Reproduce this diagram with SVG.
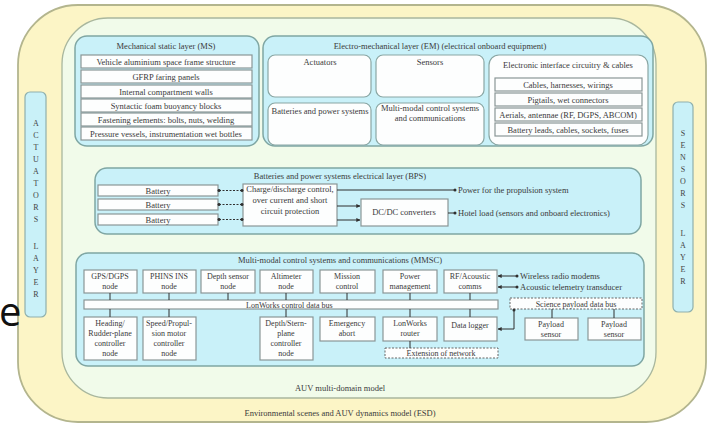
<svg xmlns="http://www.w3.org/2000/svg" width="716" height="426" viewBox="0 0 716 426">
<defs>
<style>
text{font-family:"Liberation Serif","Times New Roman",serif;fill:#3a3a3a;font-size:8.5px;text-anchor:middle}
.n text{font-size:8px}
.outer{fill:#fcf5c6;stroke:#b3b58e;stroke-width:1.8}
.inner{fill:#f1fbea;stroke:#a9b79e;stroke-width:1.3}
.side{fill:#c9f1f8;stroke:#8fb0ad;stroke-width:1.2}
.panel{fill:#c9f1f9;stroke:#7fa6a3;stroke-width:1.5}
.wbox{fill:#fdfefe;stroke:#8a9696;stroke-width:1.2}
.wrbox{fill:#fdfefe;stroke:#8aa6a3;stroke-width:1.2}
.dash{fill:#fdfefe;stroke:#666;stroke-width:1;stroke-dasharray:2 1.5}
.ln{fill:none;stroke:#2f2f2f;stroke-width:1}
.dl{fill:none;stroke:#2f2f2f;stroke-width:1;stroke-dasharray:2 1.5}
.vl text{font-family:"Liberation Serif",serif;font-size:8px;fill:#444}
.big{font-family:"Open Sans","Liberation Sans",sans-serif;font-size:40px;fill:#111;text-anchor:start}
</style>
<marker id="ah" viewBox="0 0 6 6" refX="5.5" refY="3" markerWidth="4" markerHeight="4" orient="auto-start-reverse"><path d="M0,0L6,3L0,6z" fill="#2f2f2f"/></marker>
<marker id="dot" viewBox="0 0 6 6" refX="3" refY="3" markerWidth="3.5" markerHeight="3.5"><circle cx="3" cy="3" r="2.6" fill="#2f2f2f"/></marker>
</defs>

<g id="background">
<rect class="outer" x="18" y="5" width="688" height="417" rx="60"/>
<rect class="inner" x="62" y="18" width="594" height="380" rx="46"/>
<text x="340" y="391">AUV multi-domain model</text>
<text x="340" y="416">Environmental scenes and AUV dynamics model (ESD)</text>
</g>

<text class="big" x="-1" y="326">e</text>

<g id="actuators-layer">
<rect class="side" x="25" y="92" width="21" height="225" rx="5"/>
<g class="vl">
<text x="36" y="126">A</text><text x="36" y="138">C</text><text x="36" y="150">T</text><text x="36" y="162">U</text><text x="36" y="174">A</text><text x="36" y="186">T</text><text x="36" y="198">O</text><text x="36" y="210">R</text><text x="36" y="222">S</text>
<text x="36" y="249">L</text><text x="36" y="261">A</text><text x="36" y="273">Y</text><text x="36" y="285">E</text><text x="36" y="297">R</text>
</g>
</g>

<g id="sensors-layer">
<rect class="side" x="673" y="102" width="20" height="210" rx="5"/>
<g class="vl">
<text x="683" y="136">S</text><text x="683" y="148">E</text><text x="683" y="160">N</text><text x="683" y="172">S</text><text x="683" y="184">O</text><text x="683" y="196">R</text><text x="683" y="208">S</text>
<text x="683" y="236">L</text><text x="683" y="248">A</text><text x="683" y="260">Y</text><text x="683" y="272">E</text><text x="683" y="284">R</text>
</g>
</g>

<g id="ms-layer">
<rect class="panel" x="75" y="36" width="184" height="110" rx="12"/>
<text x="166" y="49">Mechanical static layer (MS)</text>
<rect class="wbox" x="81" y="55" width="171" height="13"/><text x="166" y="64.5">Vehicle aluminium space frame structure</text>
<rect class="wbox" x="81" y="70" width="171" height="13"/><text x="166" y="79.5">GFRP faring panels</text>
<rect class="wbox" x="81" y="85" width="171" height="13"/><text x="166" y="94.5">Internal compartment walls</text>
<rect class="wbox" x="81" y="99" width="171" height="13"/><text x="166" y="108.5">Syntactic foam buoyancy blocks</text>
<rect class="wbox" x="81" y="113" width="171" height="13"/><text x="166" y="122.5">Fastening elements: bolts, nuts, welding</text>
<rect class="wbox" x="81" y="127" width="171" height="13"/><text x="166" y="136.5">Pressure vessels, instrumentation wet bottles</text>
</g>

<g id="em-layer">
<rect class="panel" x="263" y="36" width="390" height="110" rx="12"/>
<text x="440" y="49">Electro-mechanical layer (EM) (electrical onboard equipment)</text>
<rect class="wrbox" x="268" y="55" width="103" height="42" rx="7"/><text x="320" y="65">Actuators</text>
<rect class="wrbox" x="376" y="55" width="108" height="42" rx="7"/><text x="430" y="65">Sensors</text>
<rect class="wrbox" x="268" y="103" width="103" height="42" rx="7"/><text x="320" y="114">Batteries and power systems</text>
<rect class="wrbox" x="376" y="103" width="108" height="42" rx="7"/><text x="430" y="111">Multi-modal control systems</text><text x="430" y="121">and communications</text>
</g>

<g id="eic">
<rect class="wrbox" x="489" y="55" width="159" height="90" rx="10"/>
<text x="568" y="68">Electronic interface circuitry &amp; cables</text>
<rect class="wbox" x="495" y="78" width="147" height="13"/><text x="568" y="87.5">Cables, harnesses, wirings</text>
<rect class="wbox" x="495" y="93" width="147" height="13"/><text x="568" y="102.5">Pigtails, wet connectors</text>
<rect class="wbox" x="495" y="108" width="147" height="13"/><text x="568" y="117.5">Aerials, antennae (RF, DGPS, ABCOM)</text>
<rect class="wbox" x="495" y="123" width="147" height="13"/><text x="568" y="132.5">Battery leads, cables, sockets, fuses</text>
</g>

<g id="bps-layer">
<rect class="panel" x="95" y="168" width="546" height="66" rx="12"/>
<text x="340" y="179">Batteries and power systems electrical layer (BPS)</text>
</g>
<g id="battery1"><rect class="wbox" x="98" y="185" width="120" height="11"/><text x="158" y="193.5">Battery</text></g>
<g id="battery2"><rect class="wbox" x="98" y="199" width="120" height="11"/><text x="158" y="207.5">Battery</text></g>
<g id="battery3"><rect class="wbox" x="98" y="214" width="120" height="11"/><text x="158" y="222.5">Battery</text></g>
<g id="charge"><rect class="wbox" x="243" y="184" width="94" height="42"/>
<text x="290" y="192">Charge/discharge control,</text><text x="290" y="203">over current and short</text><text x="290" y="214">circuit protection</text></g>
<g id="dcdc"><rect class="wbox" x="361" y="199" width="87" height="27"/><text x="404" y="215">DC/DC converters</text></g>
<text x="458" y="193" style="text-anchor:start">Power for the propulsion system</text>
<text x="458" y="216" style="text-anchor:start">Hotel load (sensors and onboard electronics)</text>

<g id="mmsc-layer">
<rect class="panel" x="76" y="253" width="568" height="113" rx="12"/>
<text x="340" y="263">Multi-modal control systems and communications (MMSC)</text>
</g>
<g class="n">
<g id="gps"><rect class="wbox" x="84" y="270" width="53" height="23"/><text x="110" y="279">GPS/DGPS</text><text x="110" y="289">node</text></g>
<g id="phins"><rect class="wbox" x="143" y="270" width="53" height="23"/><text x="169" y="279">PHINS INS</text><text x="169" y="289">node</text></g>
<g id="depthsensor"><rect class="wbox" x="201" y="270" width="54" height="23"/><text x="228" y="279">Depth sensor</text><text x="228" y="289">node</text></g>
<g id="altimeter"><rect class="wbox" x="260" y="270" width="53" height="23"/><text x="286" y="279">Altimeter</text><text x="286" y="289">node</text></g>
<g id="mission"><rect class="wbox" x="320" y="270" width="55" height="23"/><text x="347" y="279">Mission</text><text x="347" y="289">control</text></g>
<g id="power"><rect class="wbox" x="383" y="270" width="54" height="23"/><text x="410" y="279">Power</text><text x="410" y="289">management</text></g>
<g id="rf"><rect class="wbox" x="444" y="270" width="53" height="23"/><text x="470" y="279">RF/Acoustic</text><text x="470" y="289">comms</text></g>
<g id="lonbus"><rect class="wbox" x="84" y="300" width="414" height="9"/><text x="246" y="307.5" style="text-anchor:start">LonWorks control data bus</text></g>
<g id="heading"><rect class="wbox" x="84" y="317" width="53" height="43"/><text x="110" y="326">Heading/</text><text x="110" y="336">Rudder-plane</text><text x="110" y="346">controller</text><text x="110" y="356">node</text></g>
<g id="speed"><rect class="wbox" x="143" y="317" width="53" height="43"/><text x="169" y="326">Speed/Propul-</text><text x="169" y="336">sion motor</text><text x="169" y="346">controller</text><text x="169" y="356">node</text></g>
<g id="depthstern"><rect class="wbox" x="260" y="317" width="53" height="43"/><text x="286" y="326">Depth/Stern-</text><text x="286" y="336">plane</text><text x="286" y="346">controller</text><text x="286" y="356">node</text></g>
<g id="emergency"><rect class="wbox" x="320" y="317" width="55" height="24"/><text x="347" y="326">Emergency</text><text x="347" y="336">abort</text></g>
<g id="router"><rect class="wbox" x="383" y="317" width="54" height="24"/><text x="410" y="326">LonWorks</text><text x="410" y="336">router</text></g>
<g id="datalogger"><rect class="wbox" x="444" y="317" width="53" height="24"/><text x="470" y="328">Data logger</text></g>
<g id="extension"><rect class="dash" x="385" y="348" width="113" height="10"/><text x="441" y="356">Extension of network</text></g>
<g id="sciencebus"><rect class="dash" x="510" y="298" width="132" height="11"/><text x="576" y="306.5">Science payload data bus</text></g>
<g id="payload1"><rect class="wbox" x="525" y="318" width="53" height="22"/><text x="551" y="327">Payload</text><text x="551" y="337">sensor</text></g>
<g id="payload2"><rect class="wbox" x="588" y="318" width="53" height="22"/><text x="614" y="327">Payload</text><text x="614" y="337">sensor</text></g>
</g>
<text x="520" y="279" style="text-anchor:start">Wireless radio modems</text>
<text x="520" y="290" style="text-anchor:start">Acoustic telemetry transducer</text>

<g id="connectors">
<path class="dl" d="M219 190.5H242" marker-start="url(#dot)" marker-end="url(#dot)"/>
<path class="dl" d="M219 204.5H242" marker-start="url(#dot)" marker-end="url(#dot)"/>
<path class="dl" d="M219 219.5H242" marker-start="url(#dot)" marker-end="url(#dot)"/>
<path class="ln" d="M337 190H455" marker-end="url(#dot)"/>
<path class="ln" d="M337 206H360" marker-end="url(#ah)"/>
<path class="ln" d="M337 220H360" marker-end="url(#ah)"/>
<path class="ln" d="M448 213H455" marker-end="url(#dot)"/>
<path class="ln" d="M110 293V300M169 293V300M228 293V300M286 293V300M347 293V300M410 293V300M470 293V300"/>
<path class="ln" d="M110 309V317M169 309V317M286 309V317M347 309V317M410 309V317M470 309V317M410 341V348"/>
<path class="ln" d="M552 309V318M614 309V318"/>
<path class="ln" d="M498 276H517" marker-start="url(#ah)" marker-end="url(#dot)"/>
<path class="ln" d="M498 287H517" marker-start="url(#ah)" marker-end="url(#dot)"/>
<path class="ln" d="M498 329H514V310" marker-start="url(#ah)" marker-end="url(#dot)"/>
</g>
</svg>
